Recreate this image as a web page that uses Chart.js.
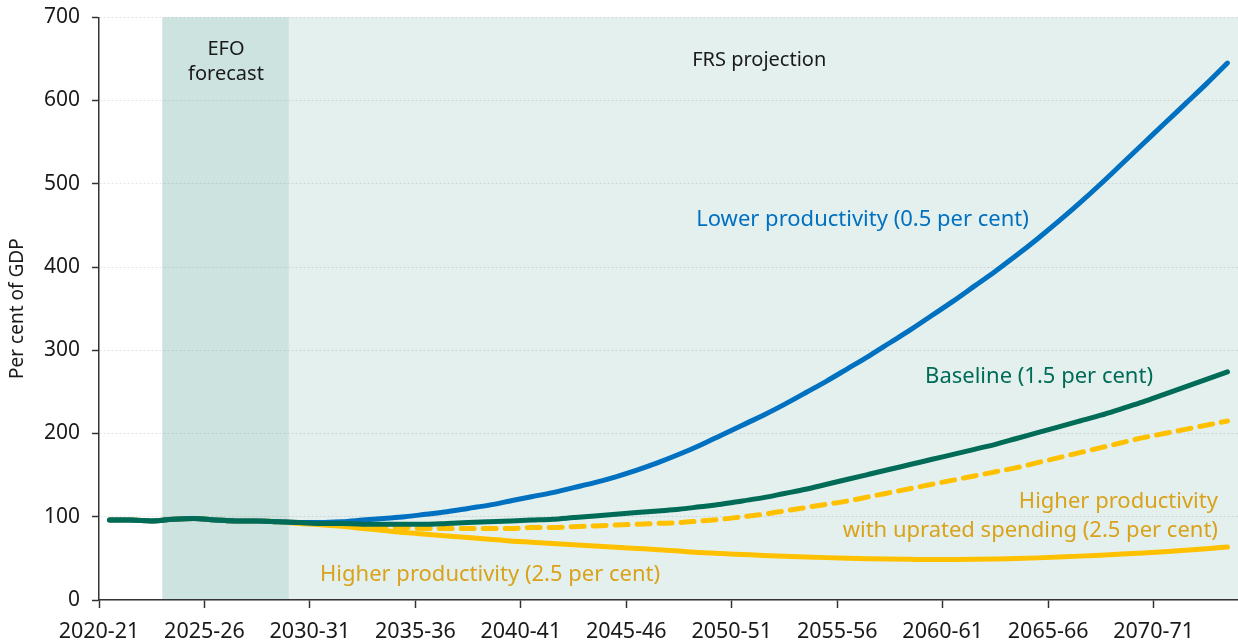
<!DOCTYPE html>
<html>
<head>
<meta charset="utf-8">
<script src="https://cdn.jsdelivr.net/npm/chart.js@4.4.1/dist/chart.umd.min.js"></script>
<style>
  html, body { margin: 0; padding: 0; background: #fff; }
  #wrap { width: 1238px; height: 641px; position: relative; }
</style>
</head>
<body>
<div id="wrap"><canvas id="debtChart"></canvas></div>
<script>
// financial years, one point per year
const years = [
  '2020-21','2021-22','2022-23','2023-24','2024-25','2025-26','2026-27','2027-28','2028-29','2029-30',
  '2030-31','2031-32','2032-33','2033-34','2034-35','2035-36','2036-37','2037-38','2038-39','2039-40',
  '2040-41','2041-42','2042-43','2043-44','2044-45','2045-46','2046-47','2047-48','2048-49','2049-50',
  '2050-51','2051-52','2052-53','2053-54','2054-55','2055-56','2056-57','2057-58','2058-59','2059-60',
  '2060-61','2061-62','2062-63','2063-64','2064-65','2065-66','2066-67','2067-68','2068-69','2069-70',
  '2070-71','2071-72','2072-73','2073-74'
];

// outturn + EFO forecast, shared by every scenario (2020-21 to 2028-29)
const history = [96, 96, 95, 97, 98, 96, 95, 95, 94];

// projections from 2029-30 onwards
const baseline = [93, 92, 92, 91, 91, 91, 91, 92, 93, 94,
  95, 96, 97, 99, 101, 103, 105, 107, 109, 112,
  115, 119, 123, 128, 133, 139, 145, 151, 157, 163,
  169, 175, 181, 187, 194, 201, 208, 215, 222, 230,
  238, 247, 256, 265, 274];
const lowerProd = [93, 93, 94, 96, 98, 100, 103, 106, 110, 114,
  119, 124, 129, 135, 141, 148, 156, 165, 175, 186,
  198, 210, 222, 235, 249, 263, 278, 293, 309, 325,
  342, 359, 377, 395, 414, 434, 455, 477, 500, 524,
  548, 572, 596, 620, 645];
const higherUprated = [93, 91, 90, 89, 88, 87, 86, 86, 86, 86,
  86, 87, 87, 88, 89, 90, 91, 92, 93, 95,
  97, 100, 103, 107, 111, 115, 119, 124, 129, 134,
  139, 144, 149, 154, 159, 165, 171, 177, 183, 189,
  195, 200, 205, 210, 215];
const higherProd = [92, 90.5, 88.5, 86, 83.5, 81, 79, 77, 75, 73,
  71, 69.5, 68, 66.5, 65, 63.5, 62, 60.5, 58.8, 57,
  55.8, 54.7, 53.6, 52.6, 51.7, 50.9, 50.2, 49.6, 49.1, 48.8,
  48.6, 48.6, 48.8, 49.2, 49.8, 50.6, 51.6, 52.7, 53.9, 55.2,
  56.6, 58.1, 59.7, 61.6, 63.6];

// shaded periods, in year boundaries
const efoFrom = 3, efoTo = 9, frsTo = 54;

const tickStep = 5;

function toPoints(proj) {
  return history.concat(proj).map((v, i) => ({ x: i + 0.5, y: v }));
}

const notes = [
  { text: 'EFO', x: 6.02, y: 662, color: '#1a1a1a', align: 'center', size: 20 },
  { text: 'forecast', x: 6.02, y: 632, color: '#1a1a1a', align: 'center', size: 20 },
  { text: 'FRS projection', x: 31.3, y: 648, color: '#1a1a1a', align: 'center', size: 20 },
  { text: 'Lower productivity (0.5 per cent)', x: 36.2, y: 457, color: '#0070c0', align: 'center', size: 22 },
  { text: 'Baseline (1.5 per cent)', x: 49.97, y: 268, color: '#006b57', align: 'right', size: 22 },
  { text: 'Higher productivity', x: 53.05, y: 118, color: '#d9a21b', align: 'right', size: 22 },
  { text: 'with uprated spending (2.5 per cent)', x: 53.05, y: 83, color: '#d9a21b', align: 'right', size: 22 },
  { text: 'Higher productivity (2.5 per cent)', x: 10.48, y: 30, color: '#d9a21b', align: 'left', size: 22 }
];

const bgPlugin = {
  id: 'bands',
  beforeDraw(chart) {
    const { ctx, chartArea, scales } = chart;
    const x = scales.x;
    ctx.save();
    ctx.fillStyle = '#e4f0ee';
    ctx.fillRect(x.getPixelForValue(efoTo), chartArea.top,
      x.getPixelForValue(frsTo) - x.getPixelForValue(efoTo), chartArea.bottom - chartArea.top);
    ctx.fillStyle = '#cde3e0';
    ctx.fillRect(x.getPixelForValue(efoFrom), chartArea.top,
      x.getPixelForValue(efoTo) - x.getPixelForValue(efoFrom), chartArea.bottom - chartArea.top);
    ctx.restore();
  },
  afterDatasetsDraw(chart) {
    const { ctx, scales } = chart;
    ctx.save();
    ctx.textBaseline = 'middle';
    notes.forEach(n => {
      ctx.font = n.size + 'px "Noto Sans"';
      ctx.fillStyle = n.color;
      ctx.textAlign = n.align;
      ctx.fillText(n.text, scales.x.getPixelForValue(n.x), scales.y.getPixelForValue(n.y));
    });
    ctx.restore();
  }
};

const ctx = document.getElementById('debtChart').getContext('2d');

const debtChart = new Chart(ctx, {
  type: 'line',
  data: {
    datasets: [
      { label: 'Baseline', data: toPoints(baseline), borderColor: '#006b57', borderWidth: 5 },
      { label: 'Lower productivity', data: toPoints(lowerProd), borderColor: '#0070c0', borderWidth: 5 },
      { label: 'Higher productivity with uprated spending', data: toPoints(higherUprated), borderColor: '#ffc000', borderWidth: 5, borderDash: [13, 9] },
      { label: 'Higher productivity', data: toPoints(higherProd), borderColor: '#ffc000', borderWidth: 5 }
    ]
  },
  options: {
    responsive: true,
    maintainAspectRatio: false,
    animation: false,
    layout: { padding: { top: 0, right: 0, bottom: 0, left: 0 } },
    elements: {
      point: { radius: 0 },
      line: { tension: 0.4, cubicInterpolationMode: 'monotone', borderCapStyle: 'round', fill: false }
    },
    plugins: {
      legend: { display: false },
      tooltip: { enabled: false }
    },
    scales: {
      x: {
        type: 'linear',
        min: 0,
        max: frsTo,
        afterFit: s => { s.height = 41; },
        afterBuildTicks: axis => {
          axis.ticks = axis.ticks.filter(t => t.value % tickStep === 0 && t.value < frsTo);
        },
        ticks: {
          stepSize: tickStep,
          color: '#1a1a1a',
          font: { family: 'Noto Sans', size: 21.5 },
          padding: 11,
          maxRotation: 0,
          autoSkip: false,
          callback: v => years[v]
        },
        grid: { drawOnChartArea: false, drawTicks: true, tickLength: 8, tickColor: '#333', tickWidth: 1.5 },
        border: { color: '#333', width: 1.5 }
      },
      y: {
        min: 0,
        max: 700,
        afterFit: s => { s.width = 99; },
        ticks: {
          stepSize: 100,
          color: '#1a1a1a',
          font: { family: 'Noto Sans', size: 21, lineHeight: 0.5 },
          padding: 12
        },
        title: {
          display: true,
          text: 'Per cent of GDP',
          color: '#1a1a1a',
          font: { family: 'Noto Sans', size: 19 },
          padding: { top: 6, bottom: 0 }
        },
        grid: { color: 'rgba(0,0,0,0.10)', lineWidth: 1, tickLength: 7, tickColor: '#333', tickWidth: 1.5 },
        border: { color: '#333', width: 1.5, dash: [2, 2] }
      }
    }
  },
  plugins: [bgPlugin]
});
</script>
</body>
</html>
